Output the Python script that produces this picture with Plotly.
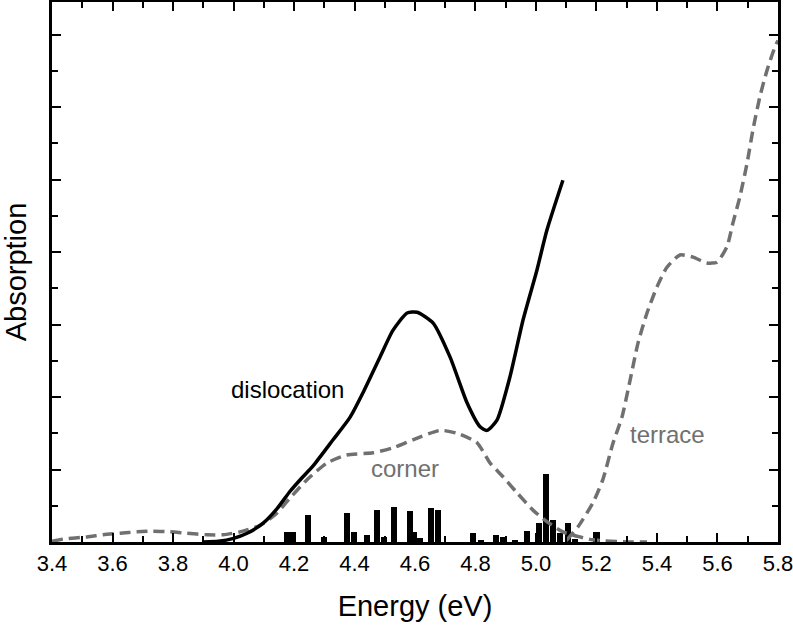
import plotly.graph_objects as go

# Dislocation absorption (solid black)
disl_x = [3.90, 3.95, 4.00, 4.045, 4.098, 4.144, 4.187, 4.225, 4.263, 4.329, 4.385, 4.428, 4.484,
          4.527, 4.574, 4.607, 4.66, 4.716, 4.772, 4.815, 4.838, 4.871, 4.914, 4.957,
          5.003, 5.036, 5.089]
disl_y = [0.0, 0.01, 0.05, 0.12, 0.26, 0.46, 0.70, 0.88, 1.05, 1.41, 1.72, 2.06, 2.55,
          2.92, 3.16, 3.17, 3.02, 2.55, 1.92, 1.59, 1.54, 1.68, 2.28, 3.06,
          3.75, 4.30, 4.99]

# Corner absorption (grey dashed)
corner_x = [3.4, 3.436, 3.516, 3.569, 3.625, 3.681, 3.734, 3.79, 3.846, 3.912, 3.965, 4.021,
            4.088, 4.144, 4.177, 4.243, 4.309, 4.375, 4.461, 4.527, 4.593, 4.683, 4.739,
            4.805, 4.848, 4.891, 4.937, 4.99, 5.036, 5.089, 5.145, 5.188, 5.301, 5.367]
corner_y = [0.01, 0.04, 0.07, 0.10, 0.12, 0.14, 0.15, 0.14, 0.12, 0.10, 0.10, 0.14,
            0.23, 0.40, 0.56, 0.86, 1.09, 1.20, 1.23, 1.30, 1.41, 1.54, 1.50,
            1.37, 1.09, 0.90, 0.68, 0.44, 0.28, 0.14, 0.07, 0.03, 0.0, 0.0]

# Terrace absorption (grey dashed)
terrace_x = [5.10, 5.139, 5.188, 5.221, 5.255, 5.284, 5.311, 5.337, 5.367, 5.40, 5.433,
             5.476, 5.519, 5.565, 5.598, 5.631, 5.651, 5.674, 5.698, 5.717, 5.74, 5.764,
             5.79, 5.80]
terrace_y = [0.02, 0.21, 0.54, 0.86, 1.37, 1.72, 2.23, 2.74, 3.16, 3.52, 3.79,
             3.96, 3.93, 3.85, 3.86, 4.07, 4.40, 4.76, 5.23, 5.68, 6.14, 6.51,
             6.83, 6.92]

# Transition stick spectrum (black bars)
stick_x = [4.177, 4.197, 4.246, 4.298, 4.375, 4.398, 4.441, 4.474, 4.498, 4.531, 4.583,
           4.598, 4.617, 4.653, 4.676, 4.792, 4.818, 4.868, 4.891, 4.93, 4.97, 5.01,
           5.033, 5.055, 5.078, 5.107, 5.129, 5.20]
stick_y = [0.14, 0.14, 0.37, 0.07, 0.40, 0.14, 0.10, 0.44, 0.07, 0.48, 0.43,
           0.14, 0.06, 0.47, 0.44, 0.12, 0.03, 0.10, 0.07, 0.03, 0.15, 0.26,
           0.94, 0.30, 0.12, 0.26, 0.04, 0.14]

x_ticks = [3.4, 3.6, 3.8, 4.0, 4.2, 4.4, 4.6, 4.8, 5.0, 5.2, 5.4, 5.6, 5.8]
x_tick_labels = ["3.4", "3.6", "3.8", "4.0", "4.2", "4.4", "4.6", "4.8", "5.0",
                 "5.2", "5.4", "5.6", "5.8"]

labels = [("dislocation", 4.18, 2.10), ("corner", 4.567, 1.02), ("terrace", 5.436, 1.48)]
label_colors = ["black", "#707070", "#707070"]

GREY = "#707070"
FONT = "Liberation Sans, Arial, sans-serif"

fig = go.Figure()
fig.add_trace(go.Bar(x=stick_x, y=stick_y, width=0.02, marker=dict(color="black", line=dict(width=0)),
                     showlegend=False))
fig.add_trace(go.Scatter(x=corner_x, y=corner_y, mode="lines", line=dict(color=GREY, width=3.5, dash="11px,6px", shape="spline", smoothing=0.6),
                         showlegend=False))
fig.add_trace(go.Scatter(x=terrace_x, y=terrace_y, mode="lines", line=dict(color=GREY, width=3.5, dash="11px,6px", shape="spline", smoothing=0.6),
                         showlegend=False))
fig.add_trace(go.Scatter(x=disl_x, y=disl_y, mode="lines", line=dict(color="black", width=3.5, shape="spline", smoothing=0.6),
                         showlegend=False))

for (t, x, y), c in zip(labels, label_colors):
    fig.add_annotation(x=x, y=y, text=t, showarrow=False, font=dict(family=FONT, size=24, color=c))

fig.update_layout(
    width=793, height=625,
    margin=dict(l=52, r=15, t=2, b=83),
    paper_bgcolor="white", plot_bgcolor="white",
    font=dict(family=FONT, color="black"),
    bargap=0,
)
fig.update_xaxes(
    range=[3.3999, 5.8001], tickvals=x_ticks, ticktext=x_tick_labels, automargin=False,
    ticklabeloverflow="allow",
    ticks="inside", ticklen=9, tickwidth=2, tickcolor="black",
    minor=dict(dtick=0.1, ticks="inside", ticklen=6, tickwidth=2, tickcolor="black"),
    showline=True, linewidth=3, linecolor="black", mirror="allticks",
    showgrid=False, zeroline=False,
    tickfont=dict(size=22, family=FONT),
    title=dict(text="Energy (eV)", font=dict(size=29, family=FONT), standoff=21),
)
fig.update_yaxes(
    range=[0, 7.45], dtick=1, tick0=0, showticklabels=False, automargin=False,
    ticks="inside", ticklen=9, tickwidth=2, tickcolor="black",
    minor=dict(dtick=0.5, ticks="inside", ticklen=6, tickwidth=2, tickcolor="black"),
    showline=True, linewidth=3, linecolor="black", mirror="allticks",
    showgrid=False, zeroline=False,
    title=dict(text="Absorption", font=dict(size=29, family=FONT), standoff=20),
)

fig.write_html("out.html", config={"displayModeBar": False},
               post_script="document.body.style.margin='0';")
